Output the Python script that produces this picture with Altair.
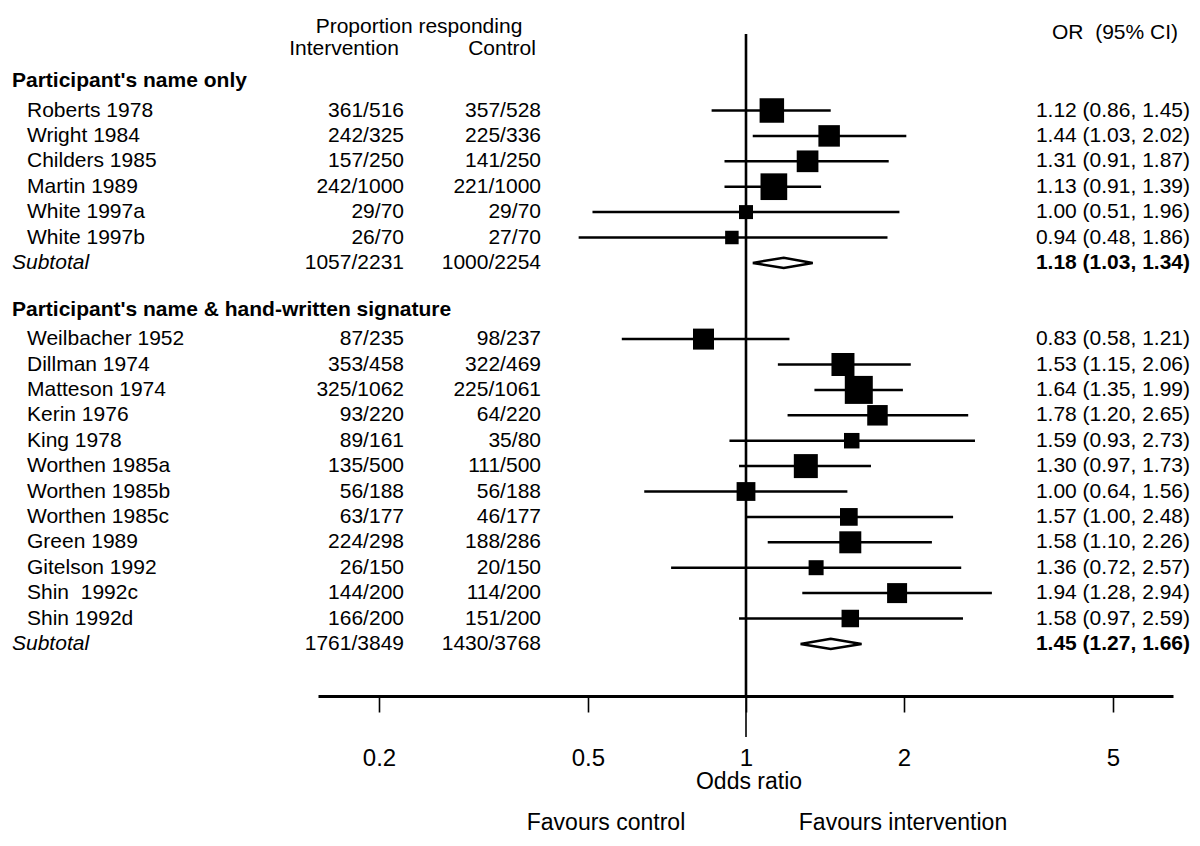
import altair as alt
import pandas as pd

# ---------------- data ----------------
group_titles = ["Participant's name only", "Participant's name & hand-written signature"]

studies1 = ["Roberts 1978", "Wright 1984", "Childers 1985", "Martin 1989", "White 1997a", "White 1997b"]
int1 = ["361/516", "242/325", "157/250", "242/1000", "29/70", "26/70"]
ctl1 = ["357/528", "225/336", "141/250", "221/1000", "29/70", "27/70"]
or1 = [1.12, 1.44, 1.31, 1.13, 1.00, 0.94]
lo1 = [0.86, 1.03, 0.91, 0.91, 0.51, 0.48]
hi1 = [1.45, 2.02, 1.87, 1.39, 1.96, 1.86]
box1 = [24.5, 21.5, 21.7, 26.7, 14.0, 13.5]
sub1 = {"int": "1057/2231", "ctl": "1000/2254", "or": 1.18, "lo": 1.03, "hi": 1.34}

studies2 = ["Weilbacher 1952", "Dillman 1974", "Matteson 1974", "Kerin 1976", "King 1978",
            "Worthen 1985a", "Worthen 1985b", "Worthen 1985c", "Green 1989", "Gitelson 1992",
            "Shin\u00a0 1992c", "Shin 1992d"]
int2 = ["87/235", "353/458", "325/1062", "93/220", "89/161", "135/500", "56/188", "63/177",
        "224/298", "26/150", "144/200", "166/200"]
ctl2 = ["98/237", "322/469", "225/1061", "64/220", "35/80", "111/500", "56/188", "46/177",
        "188/286", "20/150", "114/200", "151/200"]
or2 = [0.83, 1.53, 1.64, 1.78, 1.59, 1.30, 1.00, 1.57, 1.58, 1.36, 1.94, 1.58]
lo2 = [0.58, 1.15, 1.35, 1.20, 0.93, 0.97, 0.64, 1.00, 1.10, 0.72, 1.28, 0.97]
hi2 = [1.21, 2.06, 1.99, 2.65, 2.73, 1.73, 1.56, 2.48, 2.26, 2.57, 2.94, 2.59]
box2 = [21.0, 23.0, 28.0, 20.5, 15.5, 24.0, 18.8, 17.7, 22.0, 15.0, 20.0, 17.5]
sub2 = {"int": "1761/3849", "ctl": "1430/3768", "or": 1.45, "lo": 1.27, "hi": 1.66}

tick_values = [0.2, 0.5, 1, 2, 5]

# ---------------- layout helpers ----------------
FONT = "Liberation Sans"
FS = 21
W, H = 855, 688
AX_LEFT, AX_RIGHT, X_ONE, DECADE = 318, 1173, 746, 525
ROW0, ROWH = 110.5, 25.4


def px(page_x):
    return page_x - AX_LEFT


def rr(page_y):
    return (page_y - ROW0) / ROWH


def ci_label(o, l, h):
    return f"{o:.2f} ({l:.2f}, {h:.2f})"


study_rows, sub_rows, head_rows = [], [], []
groups = [
    (studies1, int1, ctl1, or1, lo1, hi1, box1, sub1, 0),
    (studies2, int2, ctl2, or2, lo2, hi2, box2, sub2, 9),
]
for gi, (names, ints, ctls, ors, los, his, boxes, sub, start) in enumerate(groups):
    head_rows.append({"text": group_titles[gi], "r": start - 1.16})
    for i, n in enumerate(names):
        study_rows.append({"name": n, "int": ints[i], "ctl": ctls[i], "or": ors[i],
                           "lo": los[i], "hi": his[i], "area": boxes[i] ** 2,
                           "label": ci_label(ors[i], los[i], his[i]), "r": start + i})
    sub_rows.append({"name": "Subtotal", "int": sub["int"], "ctl": sub["ctl"], "or": sub["or"],
                     "lo": sub["lo"], "hi": sub["hi"],
                     "label": ci_label(sub["or"], sub["lo"], sub["hi"]),
                     "r": start + len(names), "g": gi})

df = pd.DataFrame(study_rows)
dsub = pd.DataFrame(sub_rows)
dhead = pd.DataFrame(head_rows)

# diamonds from subtotal estimates
dia = []
hh = 5.2 / ROWH
for s in sub_rows:
    pts = [(s["lo"], s["r"]), (s["or"], s["r"] - hh), (s["hi"], s["r"]),
           (s["or"], s["r"] + hh), (s["lo"], s["r"])]
    for k, (x, y) in enumerate(pts):
        dia.append({"x": x, "r": y, "g": s["g"], "k": k})
ddia = pd.DataFrame(dia)

x_scale = alt.Scale(type="log", nice=False,
                    domain=[10 ** ((AX_LEFT - X_ONE) / DECADE), 10 ** ((AX_RIGHT - X_ONE) / DECADE)])
y_scale = alt.Scale(domain=[rr(8), rr(8 + H)], reverse=True, nice=False, zero=False)

x_axis = alt.Axis(values=tick_values, format="~g", title=None, grid=False,
                  domainColor="black", domainWidth=3, tickColor="black", tickWidth=1.6,
                  tickSize=16, labelFontSize=24, labelFont=FONT, labelColor="black",
                  labelPadding=34, labelFlush=False, labelOverlap=False)


def X(field):
    return alt.X(field, type="quantitative", scale=x_scale, axis=x_axis)


def Y(field="r"):
    return alt.Y(field, type="quantitative", scale=y_scale, axis=None)


ref = alt.Chart(pd.DataFrame({"x": [1.0], "r": [rr(34)]})).mark_rule(
    color="black", strokeWidth=2.6).encode(x=X("x"), y=Y(), y2=alt.value(H))
long_tick = alt.Chart(pd.DataFrame({"x": [1.0]})).mark_rule(
    color="black", strokeWidth=1.6).encode(x=X("x"), y=alt.value(H), y2=alt.value(737 - 8))

ci = alt.Chart(df).mark_rule(color="black", strokeWidth=2.5).encode(
    x=X("lo"), x2="hi", y=Y())
boxes = alt.Chart(df).mark_square(color="black", filled=True, opacity=1).encode(
    x=X("or"), y=Y(), size=alt.Size("area:Q", scale=None, legend=None))
diamonds = alt.Chart(ddia).mark_line(color="black", strokeWidth=2.5).encode(
    x=X("x"), y=Y(), detail="g:N", order="k:Q")


def txt(data, field, page_x, align="left", weight="normal", style="normal", size=FS):
    return alt.Chart(data).mark_text(
        align=align, baseline="middle", font=FONT, fontSize=size, color="black",
        fontWeight=weight, fontStyle=style).encode(
        x=alt.value(px(page_x)), y=Y(), text=alt.Text(field, type="nominal"))


headers = pd.DataFrame({
    "text": ["Proportion responding", "Intervention", "Control", "OR\u00a0 (95% CI)"],
    "r": [rr(27), rr(49), rr(49), rr(33)],
})


def header(i, page_x):
    return alt.Chart(headers.iloc[[i]]).mark_text(
        align="center", baseline="middle", font=FONT, fontSize=FS, color="black").encode(
        x=alt.value(px(page_x)), y=Y(), text="text:N")


bottom = pd.DataFrame({"text": ["Odds ratio", "Favours control", "Favours intervention"]})


def btext(i, page_x, page_y):
    return alt.Chart(bottom.iloc[[i]]).mark_text(
        align="center", baseline="middle", font=FONT, fontSize=23, color="black").encode(
        x=alt.value(px(page_x)), y=alt.value(page_y - 8), text="text:N")


layers = [
    ref, long_tick, ci, boxes, diamonds,
    txt(dhead, "text", 12, weight="bold"),
    txt(df, "name", 27),
    txt(df, "int", 404, align="right"),
    txt(df, "ctl", 541, align="right"),
    txt(df, "label", 1190, align="right"),
    txt(dsub, "name", 12, style="italic"),
    txt(dsub, "int", 404, align="right"),
    txt(dsub, "ctl", 541, align="right"),
    txt(dsub, "label", 1190, align="right", weight="bold"),
    header(0, 419), header(1, 344), header(2, 502), header(3, 1115),
    btext(0, 749, 782), btext(1, 606, 823), btext(2, 903, 823),
]

chart = alt.layer(*layers).properties(
    width=W, height=H,
    autosize=alt.AutoSizeParams(type="none"),
    padding={"left": AX_LEFT - 8, "top": 0, "right": 1200 - 8 - AX_RIGHT, "bottom": 140},
    background="white",
).configure_view(stroke=None)

chart.save("out.html", embed_options={"renderer": "svg", "actions": False})
